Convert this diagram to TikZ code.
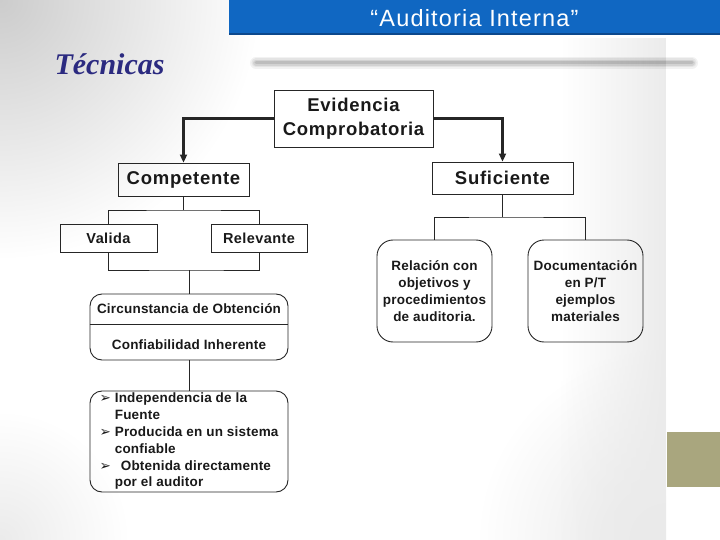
\documentclass[tikz,border=0pt]{standalone}
\usepackage{fontspec}
\setmainfont{Liberation Sans}
\newfontfamily\titlefont[LetterSpace=5]{Liberation Sans}
\newfontfamily\boxfont[LetterSpace=4]{Liberation Sans}
\newfontfamily\midfont[LetterSpace=3]{Liberation Sans}
\newfontfamily\smallfont[LetterSpace=1.5]{Liberation Sans}
\newfontfamily\headfont{Liberation Serif}
\newfontfamily\symfont{DejaVu Sans}
\usetikzlibrary{arrows.meta, positioning, fadings}
\definecolor{barblue}{RGB}{16,103,194}
\definecolor{bardark}{RGB}{12,72,140}
\definecolor{headnavy}{RGB}{43,42,128}
\definecolor{olivebox}{RGB}{169,166,126}
\newcommand{\bul}{{\symfont\fontsize{13.5}{13.5}\selectfont ➢}}

\begin{document}
\begin{tikzpicture}[x=1pt, y=-1pt,
    sqbox/.style={draw=black!85, line width=0.9pt, inner sep=0pt, align=center, text=black!90},
    rbox/.style={draw=black!85, line width=0.9pt, rounded corners=12pt, inner sep=0pt, text=black!90},
    bigtxt/.style={font=\boxfont\bfseries\fontsize{18.5}{24}\selectfont},
    midtxt/.style={font=\midfont\bfseries\fontsize{14.5}{16}\selectfont},
    smalltxt/.style={font=\smallfont\bfseries\fontsize{13.5}{17}\selectfont, text=black!90},
    link/.style={draw=black!85, line width=0.9pt},
    arr/.style={draw=black!85, line width=2.3pt, -{Triangle[length=8pt,width=7pt]}}
]
    \useasboundingbox (0,0) rectangle (720,540);

    % Slide background
    \begin{scope}
        \clip (0,0) rectangle (720,540);
        \shade[inner color=black!20, outer color=white] (0,0) circle (260);
        \shade[inner color=black!8, outer color=white] (0,540) circle (130);
        \begin{scope}
            \clip (229,38) rectangle (666,540);
            \shade[inner color=black!10, outer color=white] (666,540) circle (190);
        \end{scope}
        \fill[black!8, path fading=west] (560,38) rectangle (666,540);
        \foreach \w/\o in {12/0.05, 9/0.06, 6/0.08, 3/0.10} {
            \draw[black, line width=\w, opacity=\o, line cap=round] (256,63) -- (692,63);
        }
        \fill[olivebox] (667,432) rectangle (720,487);
    \end{scope}

    % Title bar
    \fill[barblue] (229,0) rectangle (720,33);
    \fill[bardark] (229,33) rectangle (720,35.5);
    \node[text=white, font=\titlefont\fontsize{23.5}{26}\selectfont] (ttl) at (474.5,18) {“Auditoria Interna”};
    \node[anchor=base west, text=headnavy, font=\headfont\bfseries\itshape\fontsize{30}{32}\selectfont] (tec) at (51,75) {Técnicas};

    % Upper boxes
    \node[sqbox, bigtxt, minimum width=159, minimum height=57] (evid) at (353.5,118.5) {Evidencia\\Comprobatoria};
    \node[sqbox, bigtxt, minimum width=131, minimum height=33] (comp) at (183.5,179.5) {Competente};
    \node[sqbox, bigtxt, minimum width=141, minimum height=32] (suf) at (502.5,178) {Suficiente};
    \node[sqbox, midtxt, minimum width=97, minimum height=28] (val) at (108.5,238) {Valida};
    \node[sqbox, midtxt, minimum width=96, minimum height=28] (relv) at (259,238) {Relevante};

    % Rounded boxes
    \node[rbox, minimum width=198, minimum height=66] (circ) at (189,327) {};
    \node[smalltxt] (circa) at (189,309) {Circunstancia de Obtención};
    \node[smalltxt] (circb) at (189,345) {Confiabilidad Inherente};
    \node[rbox, smalltxt, align=left, minimum width=198, minimum height=101, font=\smallfont\bfseries\fontsize{13.5}{16.8}\selectfont] (bul) at (189,441.5) {%
        \bul\hspace{4pt}Independencia de la\\
        \hphantom{\bul\hspace{4pt}}Fuente\\
        \bul\hspace{4pt}Producida en un sistema\\
        \hphantom{\bul\hspace{4pt}}confiable\\
        \bul\hspace{10pt}Obtenida directamente\\
        \hphantom{\bul\hspace{4pt}}por el auditor};
    \node[rbox, smalltxt, rounded corners=16pt, align=center, minimum width=115, minimum height=102] (relac) at (434.5,291) {Relación con\\objetivos y\\procedimientos\\de auditoria.};
    \node[rbox, smalltxt, rounded corners=16pt, align=center, minimum width=115, minimum height=102] (doc) at (585.5,291) {Documentación\\en P/T\\ejemplos\\materiales};

    % Connectors
    \draw[arr] (evid.west) -| (comp.north);
    \draw[arr] (evid.east) -| (suf.north);
    \coordinate (cj) at (183.5,210);
    \draw[link] (comp.south) -- (cj);
    \draw[link] (val.north) |- (cj) -| (relv.north);
    \coordinate (lj) at (189,270);
    \draw[link] (val.south) |- (lj) -| (relv.south);
    \draw[link] (lj) -- (circ.north);
    \draw[link] (circ.west |- 0,324) -- (circ.east |- 0,324);
    \draw[link] (circ.south) -- (bul.north);
    \coordinate (sj) at (502.5,217);
    \draw[link] (suf.south) -- (sj);
    \draw[link] (relac.north) |- (sj) -| (doc.north);
\end{tikzpicture}
\end{document}
